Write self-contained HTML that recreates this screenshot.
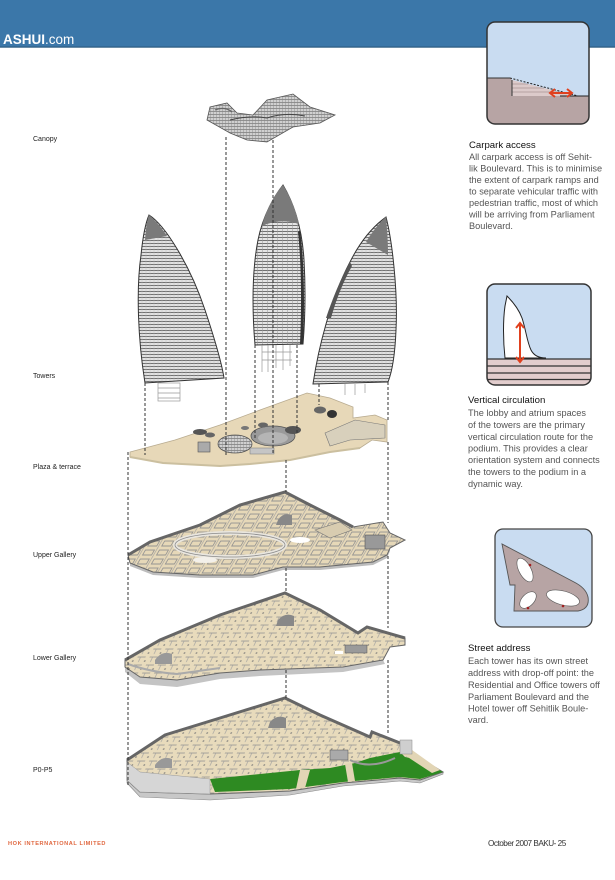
<!DOCTYPE html>
<html>
<head>
<meta charset="utf-8">
<style>
html,body{margin:0;padding:0;background:#fff;}
body{width:615px;height:880px;overflow:hidden;}
svg{display:block;}
.lbl{font-family:"Liberation Sans",sans-serif;font-size:7px;fill:#222;}
.hd{font-family:"Liberation Sans",sans-serif;font-size:9.6px;fill:#111;}
.bd{font-family:"Liberation Sans",sans-serif;font-size:9.2px;fill:#555;}
</style>
</head>
<body>
<svg width="615" height="880" viewBox="0 0 615 880" xmlns="http://www.w3.org/2000/svg">
<defs>
  <pattern id="mesh" width="4" height="3" patternUnits="userSpaceOnUse">
    <rect width="4" height="3" fill="#e2e2e2"/>
    <line x1="0" y1="0.5" x2="4" y2="0.5" stroke="#555" stroke-width="0.8"/>
    <line x1="2" y1="0" x2="2" y2="3" stroke="#bbb" stroke-width="0.4"/>
  </pattern>
  <pattern id="mesh2" width="5" height="3" patternUnits="userSpaceOnUse">
    <rect width="5" height="3" fill="#e4e4e4"/>
    <line x1="0" y1="0.5" x2="5" y2="0.5" stroke="#555" stroke-width="0.8"/>
    <line x1="2.5" y1="0" x2="2.5" y2="3" stroke="#999" stroke-width="0.5"/>
  </pattern>
  <pattern id="cmesh" width="3" height="3" patternUnits="userSpaceOnUse">
    <rect width="3" height="3" fill="#d0d0d0"/>
    <line x1="0" y1="0.5" x2="3" y2="0.5" stroke="#666" stroke-width="0.6"/>
    <line x1="0.5" y1="0" x2="0.5" y2="3" stroke="#888" stroke-width="0.45"/>
  </pattern>
  <pattern id="rooms" width="14" height="9" patternUnits="userSpaceOnUse" patternTransform="skewX(-30)">
    <rect width="14" height="9" fill="#e6d8b8"/>
    <rect x="1" y="1" width="9" height="5" fill="none" stroke="#909090" stroke-width="0.9"/>
    <line x1="12" y1="0" x2="12" y2="9" stroke="#a0a0a0" stroke-width="0.7"/>
  </pattern>
  <pattern id="rooms2" width="12" height="8" patternUnits="userSpaceOnUse" patternTransform="skewX(-25)">
    <rect width="12" height="8" fill="#e8dbbc"/>
    <line x1="0" y1="1" x2="8" y2="1" stroke="#929292" stroke-width="0.8"/>
    <line x1="3" y1="1" x2="3" y2="6" stroke="#a0a0a0" stroke-width="0.7"/>
    <circle cx="9" cy="5" r="0.8" fill="#777"/>
  </pattern>
  <clipPath id="c1"><rect x="487" y="22" width="102" height="102" rx="8"/></clipPath>
  <clipPath id="c2"><rect x="487" y="284" width="104" height="101" rx="8"/></clipPath>
</defs>

<!-- header -->
<rect x="0" y="0" width="615" height="47" fill="#3b77a9"/>
<rect x="0" y="46.5" width="615" height="1.2" fill="#2b5a80"/>
<text x="3" y="44" font-family="Liberation Sans, sans-serif" font-size="13.5" fill="#fff"><tspan font-weight="bold">ASHUI</tspan>.com</text>

<!-- left labels -->
<text class="lbl" x="33" y="141">Canopy</text>
<text class="lbl" x="33" y="378">Towers</text>
<text class="lbl" x="33" y="469">Plaza &amp; terrace</text>
<text class="lbl" x="33" y="557">Upper Gallery</text>
<text class="lbl" x="33" y="660">Lower Gallery</text>
<text class="lbl" x="33" y="772">P0-P5</text>

<!-- canopy -->
<polygon points="207,120 210,107 227,103 237,113 253,115 267,100 293,94 310,107 335,115 320,123 293,127 267,142 247,140 230,133" fill="url(#cmesh)" stroke="#555" stroke-width="0.8"/>
<path d="M230,120 Q250,115 267,118 Q285,112 305,116" fill="none" stroke="#444" stroke-width="1"/>
<path d="M215,110 Q225,106 232,112" fill="none" stroke="#666" stroke-width="1.2"/>

<!-- towers -->
<path d="M149,215 C165,225 190,265 205,310 C215,340 222,365 224,378 L145,383 C138,340 136,290 141,255 C143,235 146,222 149,215 Z" fill="url(#mesh)" stroke="#333" stroke-width="1"/>
<path d="M149,215 C156,221 162,228 167,236 L145,240 C146,228 147,220 149,215 Z" fill="#7a7a7a"/>
<path d="M283,185 C292,200 302,225 304,260 C306,295 305,320 303,344 L255,345 C252,310 252,270 258,240 C263,215 275,195 283,185 Z" fill="url(#mesh2)" stroke="#333" stroke-width="1"/>
<path d="M283,185 C290,196 296,210 299,224 Q280,218 262,226 C266,210 274,195 283,185 Z" fill="#7a7a7a"/>
<path d="M300,230 C304,260 305,300 303,344 L300,344 C302,300 301,260 298,232 Z" fill="#333"/>
<path d="M386,217 C392,240 398,290 396,330 C395,355 392,372 388,382 L313,384 C318,350 330,300 350,262 C362,238 375,225 386,217 Z" fill="url(#mesh)" stroke="#333" stroke-width="1"/>
<path d="M386,217 C380,222 372,232 366,242 L388,255 C388,240 387,228 386,217 Z" fill="#7a7a7a"/>
<path d="M350,262 C340,280 332,300 326,318 L331,318 C336,300 343,282 352,266 Z" fill="#555"/>
<!-- tower bases -->
<g stroke="#999" stroke-width="0.7" fill="none">
  <rect x="158" y="383" width="22" height="18"/>
  <line x1="158" y1="388" x2="180" y2="388"/><line x1="158" y1="393" x2="180" y2="393"/><line x1="158" y1="398" x2="180" y2="398"/>
  <line x1="262" y1="345" x2="262" y2="372"/><line x1="268" y1="345" x2="268" y2="372"/>
  <line x1="276" y1="345" x2="276" y2="368"/><line x1="283" y1="345" x2="283" y2="370"/><line x1="290" y1="345" x2="290" y2="366"/>
  <line x1="262" y1="352" x2="292" y2="352"/><line x1="262" y1="360" x2="292" y2="360"/>
  <line x1="345" y1="384" x2="345" y2="395"/><line x1="355" y1="384" x2="355" y2="395"/><line x1="365" y1="384" x2="365" y2="393"/>
</g>

<!-- plaza & terrace -->
<polygon points="130,452 175,440 220,425 260,410 307,393 330,398 353,407 353,418 375,415 387,420 387,442 372,440 360,448 330,452 290,460 250,464 220,466 163,463 130,457" fill="#e7d8b8" stroke="#b8ab90" stroke-width="0.8"/>
<path d="M130,457 L163,463 L220,466 L250,464 L290,460 L330,452 L360,448" fill="none" stroke="#cbbf9f" stroke-width="2"/>
<ellipse cx="235" cy="444" rx="17" ry="9" fill="url(#cmesh)" stroke="#555" stroke-width="0.8"/>
<ellipse cx="273" cy="436" rx="22" ry="10" fill="#9a9a9a" stroke="#555" stroke-width="0.8"/>
<ellipse cx="273" cy="438" rx="15" ry="6" fill="#b5b5b5"/>
<ellipse cx="200" cy="432" rx="7" ry="3" fill="#555"/>
<ellipse cx="210" cy="435" rx="5" ry="2.5" fill="#666"/>
<ellipse cx="293" cy="430" rx="8" ry="4" fill="#555"/>
<ellipse cx="320" cy="410" rx="6" ry="3.5" fill="#666"/>
<ellipse cx="332" cy="414" rx="5" ry="4" fill="#333"/>
<ellipse cx="263" cy="425" rx="5" ry="2.5" fill="#666"/>
<ellipse cx="245" cy="428" rx="4" ry="2" fill="#777"/>
<rect x="198" y="442" width="12" height="10" fill="#aaa" stroke="#555" stroke-width="0.6"/>
<rect x="250" y="448" width="24" height="6" fill="#c5c5c5" stroke="#777" stroke-width="0.5"/>
<polygon points="325,433 355,420 385,425 385,438 350,440 330,446" fill="#d8d0bc" stroke="#777" stroke-width="0.6"/>

<!-- upper gallery -->
<polygon points="130,566 153,575 200,578 253,578 283,570 320,570 373,565 387,558 390,551 390,548 130,563" fill="#bdbdbd"/>
<polygon points="128,555 150,542 200,525 240,505 285,492 310,505 340,520 353,527 383,522 390,533 405,540 390,548 387,555 373,562 320,567 283,567 253,575 200,575 153,572 130,563" fill="url(#rooms)" stroke="#666" stroke-width="1"/>
<path d="M128,555 L150,542 L200,525 L240,505 L285,492 L310,505 L340,520 L353,527" fill="none" stroke="#666" stroke-width="3"/>
<ellipse cx="230" cy="545" rx="55" ry="12" fill="none" stroke="#e9e6df" stroke-width="4"/>
<ellipse cx="230" cy="545" rx="55" ry="12" fill="none" stroke="#8a8a8a" stroke-width="0.8"/>
<ellipse cx="300" cy="540" rx="10" ry="3" fill="#fff"/>
<ellipse cx="205" cy="560" rx="12" ry="3" fill="#f3f0ea"/>
<path d="M278,520 Q283,512 292,515 L292,525 L276,525 Z" fill="#888"/>
<rect x="365" y="535" width="20" height="14" fill="#999" stroke="#555" stroke-width="0.6"/>
<polygon points="315,530 340,522 352,530 330,538" fill="#d8ccb0" stroke="#777" stroke-width="0.6"/>

<!-- lower gallery -->
<polygon points="125,667 140,677 177,680 220,673 260,670 343,667 383,660 385,664 343,672 260,676 220,679 177,687 140,684 125,672" fill="#c4c4c4"/>
<polygon points="125,660 160,640 220,615 285,593 320,610 358,633 367,627 405,638 405,645 390,647 383,660 343,667 260,670 220,673 177,680 140,677 125,667" fill="url(#rooms2)" stroke="#666" stroke-width="1"/>
<path d="M125,660 L160,640 L220,615 L285,593 L320,610 L358,633 L367,627 L405,638" fill="none" stroke="#666" stroke-width="3"/>
<path d="M128,664 Q150,672 177,674 L220,668" fill="none" stroke="#aaa" stroke-width="2"/>
<path d="M278,620 Q285,612 294,616 L294,626 L276,626 Z" fill="#888"/>
<path d="M155,660 Q162,650 172,654 L172,664 L155,664 Z" fill="#999"/>
<rect x="345" y="645" width="22" height="8" fill="#9a9a9a" stroke="#555" stroke-width="0.5"/>
<rect x="335" y="651" width="8" height="3" fill="#fff"/>

<!-- P0-P5 -->
<polygon points="127,762 127,783 140,797 210,800 290,795 343,786 400,781 420,783 443,774 443,772 400,776 343,781 290,788 210,792 140,790" fill="#c8c8c8" stroke="#888" stroke-width="0.6"/>
<polygon points="127,760 165,735 220,718 285,698 320,715 370,737 372,732 400,743 403,753 420,758 443,772 420,780 400,778 343,783 290,791 210,794 140,792 127,780" fill="url(#rooms2)" stroke="#666" stroke-width="1"/>
<path d="M127,760 L165,735 L220,718 L285,698 L320,715 L370,737 L372,732 L400,743" fill="none" stroke="#666" stroke-width="3"/>
<polygon points="210,779 250,775 300,770 330,768 355,763 370,758 400,752 405,757 420,760 443,772 420,779 400,777 343,782 290,789 215,792" fill="#2e8a22"/>
<polygon points="300,770 310,770 305,788 296,789" fill="#e2d5b5"/>
<polygon points="345,764 352,763 355,781 348,782" fill="#e2d5b5"/>
<polygon points="400,752 412,750 440,770 432,773" fill="#e2d5b5"/>
<polygon points="127,762 140,772 210,779 210,794 140,792 127,780" fill="#d6d6d6" stroke="#999" stroke-width="0.5"/>
<path d="M350,760 Q370,770 395,758" fill="none" stroke="#999" stroke-width="2"/>
<rect x="330" y="750" width="18" height="10" fill="#aaa" stroke="#555" stroke-width="0.5"/>
<rect x="400" y="740" width="12" height="14" fill="#cfcfcf" stroke="#888" stroke-width="0.5"/>
<path d="M155,765 Q162,755 172,759 L172,768 L155,768 Z" fill="#999"/>
<path d="M270,722 Q277,714 286,718 L286,728 L268,728 Z" fill="#888"/>

<!-- dashed guide lines -->
<g stroke="#333" stroke-width="1" stroke-dasharray="3,2" fill="none">
  <line x1="226" y1="137" x2="226" y2="455"/>
  <line x1="273" y1="140" x2="273" y2="455"/>
  <line x1="145" y1="383" x2="145" y2="455"/>
  <line x1="255" y1="345" x2="255" y2="440"/>
  <line x1="297" y1="345" x2="297" y2="435"/>
  <line x1="319" y1="384" x2="319" y2="405"/>
  <line x1="388" y1="382" x2="388" y2="420"/>
  <line x1="388" y1="442" x2="388" y2="523"/>
  <line x1="388" y1="556" x2="388" y2="628"/>
  <line x1="388" y1="660" x2="388" y2="735"/>
  <line x1="128" y1="452" x2="128" y2="785"/>
  <line x1="286" y1="460" x2="286" y2="492"/>
  <line x1="286" y1="568" x2="286" y2="593"/>
  <line x1="286" y1="670" x2="286" y2="698"/>
</g>

<!-- right panel box 1 -->
<rect x="487" y="22" width="102" height="102" rx="8" fill="#c9dcf1"/>
<g clip-path="url(#c1)">
  <polygon points="487,78 510,78 512,80 512,96 589,96 589,124 487,124" fill="#b7a4a4"/>
  <polygon points="512,80 576,96 512,96" fill="#dccaca"/>
  <g stroke="#8f7d7d" stroke-width="0.6">
    <line x1="512" y1="84" x2="528" y2="84"/>
    <line x1="512" y1="88" x2="544" y2="88"/>
    <line x1="512" y1="92" x2="560" y2="92"/>
  </g>
  <line x1="512" y1="80" x2="512" y2="96" stroke="#333" stroke-width="1"/>
  <line x1="487" y1="78" x2="510" y2="78" stroke="#333" stroke-width="1"/>
  <line x1="510" y1="78" x2="578" y2="96" stroke="#222" stroke-width="1" stroke-dasharray="2,1.5"/>
  <line x1="560" y1="96" x2="589" y2="96" stroke="#222" stroke-width="1"/>
  <g stroke="#e0401e" stroke-width="2" fill="none">
    <line x1="551" y1="93" x2="571" y2="93"/>
    <polyline points="555,89 550,93 555,97"/>
    <polyline points="567,89 572,93 567,97"/>
  </g>
</g>
<rect x="487" y="22" width="102" height="102" rx="8" fill="none" stroke="#333" stroke-width="1.5"/>

<text class="hd" x="469" y="148">Carpark access</text>
<text class="bd" x="469" y="160">All carpark access is off Sehit-</text>
<text class="bd" x="469" y="171.5">lik Boulevard. This is to minimise</text>
<text class="bd" x="469" y="183">the extent of carpark ramps and</text>
<text class="bd" x="469" y="194.5">to separate vehicular traffic with</text>
<text class="bd" x="469" y="206">pedestrian traffic, most of which</text>
<text class="bd" x="469" y="217.5">will be arriving from Parliament</text>
<text class="bd" x="469" y="229">Boulevard.</text>

<!-- right panel box 2 -->
<rect x="487" y="284" width="104" height="101" rx="8" fill="#c9dcf1"/>
<g clip-path="url(#c2)">
  <rect x="487" y="359" width="104" height="26" fill="#e2cdcd"/>
  <g stroke="#333" stroke-width="1.2">
    <line x1="487" y1="359" x2="591" y2="359"/>
    <line x1="487" y1="366" x2="591" y2="366"/>
    <line x1="487" y1="373" x2="591" y2="373"/>
    <line x1="487" y1="379.5" x2="591" y2="379.5"/>
  </g>
  <path d="M507,296 C513,302 519,310 522,318 C526,330 527,342 531,350 C534,356 540,358 546,358 L505,358 C503,340 503,320 505,306 Z" fill="#fff" stroke="#222" stroke-width="1"/>
  <g stroke="#e0401e" stroke-width="2" fill="none">
    <line x1="520" y1="324" x2="520" y2="361"/>
    <polyline points="516,328 520,323 524,328"/>
    <polyline points="516,357 520,362 524,357"/>
  </g>
</g>
<rect x="487" y="284" width="104" height="101" rx="8" fill="none" stroke="#333" stroke-width="1.5"/>

<text class="hd" x="468" y="403">Vertical circulation</text>
<text class="bd" x="468" y="416">The lobby and atrium spaces</text>
<text class="bd" x="468" y="428">of the towers are the primary</text>
<text class="bd" x="468" y="440">vertical circulation route for the</text>
<text class="bd" x="468" y="451.5">podium. This provides a clear</text>
<text class="bd" x="468" y="463">orientation system and connects</text>
<text class="bd" x="468" y="475">the towers to the podium in a</text>
<text class="bd" x="468" y="487">dynamic way.</text>

<!-- right panel box 3 -->
<rect x="495" y="529" width="97" height="98" rx="8" fill="#c9dcf1" stroke="#444" stroke-width="1.3"/>
<path d="M502,544 L510,585 L515,585 L514,611 L578,611 Q590,609 588,597 Q586,588 574,582 Z" fill="#b7a4a4" stroke="#555" stroke-width="0.9"/>
<ellipse cx="525" cy="570" rx="13" ry="6" transform="rotate(62 525 570)" fill="#fff" stroke="#555" stroke-width="0.6"/>
<ellipse cx="528" cy="600" rx="10" ry="6" transform="rotate(-45 528 600)" fill="#fff" stroke="#555" stroke-width="0.6"/>
<ellipse cx="563" cy="598" rx="17" ry="7" transform="rotate(15 563 598)" fill="#fff" stroke="#555" stroke-width="0.6"/>
<circle cx="530" cy="565" r="1.3" fill="#a02020"/>
<circle cx="528" cy="608" r="1.3" fill="#a02020"/>
<circle cx="563" cy="606" r="1.3" fill="#a02020"/>

<text class="hd" x="468" y="651">Street address</text>
<text class="bd" x="468" y="664">Each tower has its own street</text>
<text class="bd" x="468" y="676">address with drop-off point: the</text>
<text class="bd" x="468" y="688">Residential and Office towers off</text>
<text class="bd" x="468" y="700">Parliament Boulevard and the</text>
<text class="bd" x="468" y="711.5">Hotel tower off Sehitlik Boule-</text>
<text class="bd" x="468" y="723">vard.</text>

<!-- footer -->
<text x="8" y="845" font-family="Liberation Sans, sans-serif" font-size="5.6" font-weight="bold" fill="#e0673f" letter-spacing="0.6">HOK INTERNATIONAL LIMITED</text>
<text x="488" y="846" font-family="Liberation Sans, sans-serif" font-size="8.2" fill="#333" letter-spacing="-0.5">October 2007 BAKU- 25</text>
</svg>
</body>
</html>
